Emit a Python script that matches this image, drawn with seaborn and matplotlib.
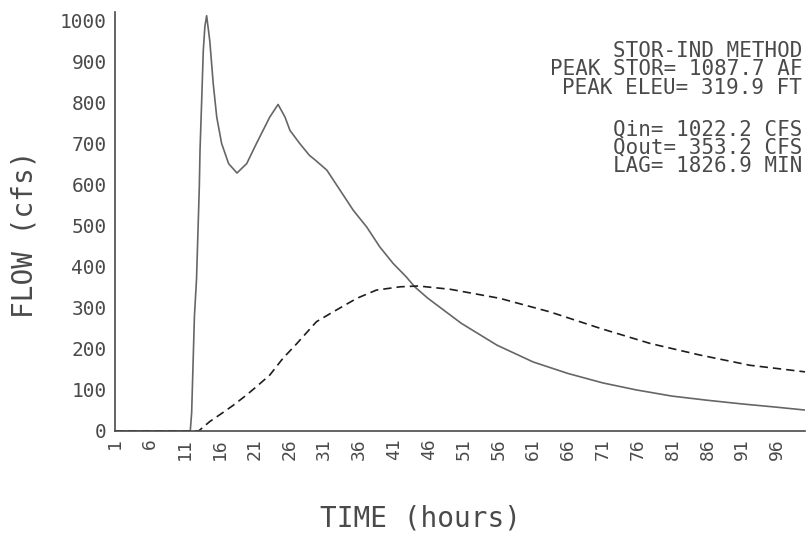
import matplotlib
matplotlib.use("Agg")
import matplotlib.pyplot as plt
import seaborn as sns
import pandas as pd

# inflow hydrograph (solid)
inflow_hr = [1, 11.8, 12.0, 12.4, 12.7, 13.1, 13.2, 13.44, 13.67, 13.9, 14.15, 14.6,
             15.1, 15.6, 16.3, 17.3, 18.5, 19.9, 21.3, 23.2, 24.4, 25.4, 26.1, 27.5,
             28.9, 29.7, 31.4, 33.3, 35.2, 37.1, 39.0, 40.9, 42.8, 44.0, 45.9, 50.7,
             55.8, 61, 66, 71, 75.8, 80.9, 85.9, 90.9, 95.9, 100]
inflow_cfs = [0, 0, 44, 280, 370, 594, 683, 805, 926, 985, 1011, 950,
              845, 764, 700, 651, 628, 651, 700, 764, 795, 764, 732, 700,
              671, 660, 635, 586, 537, 497, 448, 408, 375, 351, 323, 262,
              209, 168, 140, 117, 100, 85, 75, 66, 58, 51]

# routed outflow (dashed)
outflow_hr = [1, 13.0, 14.6, 16.5, 18.0, 19.9, 21.3, 23.2, 25.1, 27.1, 29.9, 32.3,
              35.7, 38.5, 41.9, 44.5, 49.1, 56.2, 63.4, 70.6, 77.8, 84.9, 92.1, 100]
outflow_cfs = [0, 0, 23, 45, 63, 88, 108, 136, 177, 213, 266, 290,
               323, 343, 351, 353, 345, 323, 290, 250, 213, 185, 160, 144]

xticks = list(range(1, 97, 5))
yticks = list(range(0, 1001, 100))

info_top = ["STOR-IND METHOD", "PEAK STOR= 1087.7 AF", "PEAK ELEU= 319.9 FT"]
info_bot = ["Qin= 1022.2 CFS", "Qout= 353.2 CFS", "LAG= 1826.9 MIN"]

sns.set_style("white")
plt.rcParams["font.family"] = ["DejaVu Sans Mono", "DejaVu Sans"]
ink = "#4a4a4a"

fig = plt.figure(figsize=(8.08, 5.36), dpi=100)
ax = fig.add_axes([0.1423, 0.1959, 0.8540, 0.7817])

df_in = pd.DataFrame({"hr": inflow_hr, "cfs": inflow_cfs})
df_out = pd.DataFrame({"hr": outflow_hr, "cfs": outflow_cfs})
sns.lineplot(data=df_in, x="hr", y="cfs", ax=ax, color="#666666", linewidth=1.2)
sns.lineplot(data=df_out, x="hr", y="cfs", ax=ax, color="#1e1e1e", linewidth=1.2,
             linestyle=(0, (5, 3)))

ax.set_xlim(1, 100)
ax.set_ylim(0, 1020)
ax.set_xticks(xticks)
ax.set_yticks(yticks)
ax.set_xticklabels([str(t) for t in xticks], rotation=90, fontsize=13, color=ink)
ax.set_yticklabels([str(t) for t in yticks], fontsize=14, color=ink)
ax.tick_params(axis="both", direction="in", length=6, width=1.1, color=ink, pad=5)
ax.tick_params(axis="y", pad=6)

for s in ["top", "right"]:
    ax.spines[s].set_visible(False)
for s in ["left", "bottom"]:
    ax.spines[s].set_color(ink)
    ax.spines[s].set_linewidth(1.2)

ax.set_xlabel("")
ax.set_ylabel("")
fig.text(420 / 808, 1 - 519 / 536, "TIME (hours)", ha="center", va="center",
         fontsize=20, color=ink)
fig.text(25 / 808, 1 - 234 / 536, "FLOW (cfs)", ha="center", va="center",
         rotation=90, fontsize=20, color=ink)

for lines, y0 in [(info_top, 51), (info_bot, 129)]:
    for i, line in enumerate(lines):
        fig.text(802 / 808, 1 - (y0 + i * 18.4) / 536, line, ha="right", va="center",
                 fontsize=15, color=ink)

fig.savefig("out.png", dpi=100)
